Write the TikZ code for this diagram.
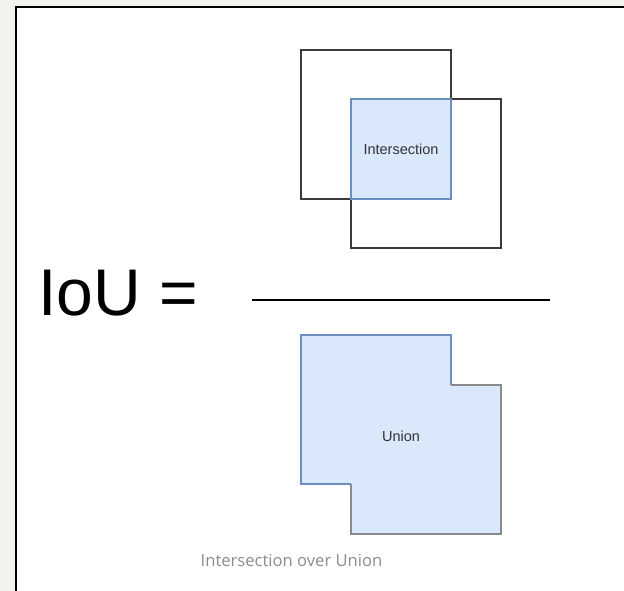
\documentclass[tikz,border=0pt]{standalone}
\usepackage{fontspec}
\setmainfont{Liberation Sans}
\newfontfamily\captionfont{Open Sans}
\definecolor{pagegray}{HTML}{F3F2EE}
\definecolor{boxfill}{HTML}{DAE8FC}
\definecolor{boxline}{HTML}{6C8EBF}
\definecolor{edgegray}{HTML}{3A3A3A}
\definecolor{uniongray}{HTML}{8A8A8A}
\definecolor{labelgray}{HTML}{333333}
\definecolor{captiongray}{HTML}{8C8C8C}
\begin{document}
\begin{tikzpicture}[x=1pt,y=-1pt,
  squarebox/.style={draw=edgegray,line width=1.2pt,minimum width=150pt,minimum height=149pt,inner sep=0pt},
  overlapbox/.style={draw=boxline,fill=boxfill,line width=1.2pt,minimum width=100pt,minimum height=100pt,inner sep=0pt},
  smalllabel/.style={font=\fontsize{14.5}{16}\selectfont,text=labelgray,inner sep=0pt}]
  % page background and frame
  \useasboundingbox (0,0) rectangle (624,591);
  \fill[pagegray] (0,0) rectangle (624,591);
  \fill[white] (16,7) rectangle (624,591);
  \draw[black,line width=2pt] (16,591) -- (16,7) -- (624,7);

  % numerator: two overlapping squares
  \node[squarebox] (boxA) at (376,124.5) {};
  \node[squarebox] (boxB) at (426,173.5) {};
  \node[overlapbox] (inter) at (401,149) {};
  \node[smalllabel] (interlabel) at (inter.center) {Intersection};

  % fraction bar, centred under the squares
  \coordinate (barL) at (252,300);
  \coordinate (barR) at (550,300);
  \draw[black,line width=1.1pt] (barL) -- (barR);

  % left-hand side
  \node[anchor=base west,inner sep=0pt,font=\fontsize{66}{70}\selectfont] (iou) at (38,315) {IoU =};

  % denominator: union of both squares
  \fill[boxfill] (301,335) -- (451,335) -- (451,385) -- (501,385) -- (501,534)
    -- (351,534) -- (351,484) -- (301,484) -- cycle;
  \draw[boxline,line width=1.2pt] (451,385) -- (451,335) -- (301,335) -- (301,484) -- (351,484);
  \draw[uniongray,line width=1.2pt] (451,385) -- (501,385) -- (501,534) -- (351,534) -- (351,484);
  \node[smalllabel] (unionlabel) at (401,436) {Union};

  % caption
  \node[anchor=base west,inner sep=0pt,font=\captionfont\fontsize{16.6}{18}\selectfont,text=captiongray] (caption) at (200.5,566.5) {Intersection over Union};
\end{tikzpicture}
\end{document}
